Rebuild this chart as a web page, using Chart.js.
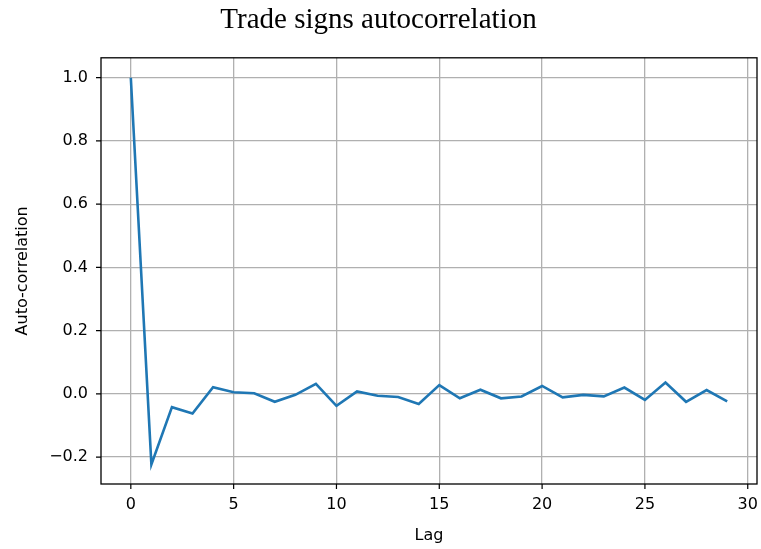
<!DOCTYPE html>
<html>
<head>
<meta charset="utf-8">
<script src="https://cdn.jsdelivr.net/npm/chart.js@4"></script>
<style>
  body { margin: 0; background: #fff; }
  #wrap { width: 761px; height: 549px; }
</style>
</head>
<body>
<div id="wrap"><canvas id="acf" width="761" height="549"></canvas></div>
<script>
// lags and autocorrelation values
const lags = [0,1,2,3,4,5,6,7,8,9,10,11,12,13,14,15,16,17,18,19,20,21,22,23,24,25,26,27,28,29];
const acf = [1.0, -0.223, -0.042, -0.062, 0.021, 0.005, 0.002, -0.025, -0.003, 0.032,
  -0.038, 0.008, -0.006, -0.010, -0.032, 0.028, -0.014, 0.013, -0.014, -0.008,
  0.025, -0.011, -0.003, -0.008, 0.020, -0.019, 0.036, -0.025, 0.012, -0.024];
const xTicks = [0, 5, 10, 15, 20, 25, 30];
const yTicks = [-0.2, 0.0, 0.2, 0.4, 0.6, 0.8, 1.0];

const tickFont = { family: "DejaVu Sans", size: 16 };

// black frame + outward tick marks like matplotlib
const frameTicks = {
  id: "frameTicks",
  afterDraw(chart) {
    const { ctx, chartArea: a, scales } = chart;
    ctx.save();
    ctx.strokeStyle = "#000";
    ctx.lineWidth = 1.3;
    ctx.strokeRect(a.left, a.top, a.right - a.left, a.bottom - a.top);
    ctx.lineWidth = 1.2;
    ctx.beginPath();
    xTicks.forEach((v) => {
      const x = scales.x.getPixelForValue(v);
      ctx.moveTo(x, a.bottom);
      ctx.lineTo(x, a.bottom + 5);
    });
    yTicks.forEach((v) => {
      const y = scales.y.getPixelForValue(v);
      ctx.moveTo(a.left - 5, y);
      ctx.lineTo(a.left, y);
    });
    ctx.stroke();
    ctx.restore();
  },
};

new Chart(document.getElementById("acf"), {
  type: "line",
  data: {
    datasets: [
      {
        data: lags.map((l, i) => ({ x: l, y: acf[i] })),
        borderColor: "#1f77b4",
        borderWidth: 2.6,
        pointRadius: 0,
        tension: 0,
        fill: false,
      },
    ],
  },
  options: {
    responsive: false,
    animation: false,
    layout: { padding: { left: 0, right: 4, top: 0, bottom: 0 } },
    plugins: {
      legend: { display: false },
      tooltip: { enabled: false },
      title: {
        display: true,
        text: "Trade signs autocorrelation",
        color: "#000",
        font: { family: "Liberation Serif", size: 29, weight: "normal" },
        padding: { top: 3, bottom: 20 },
      },
    },
    scales: {
      x: {
        type: "linear",
        min: -1.45,
        max: 30.45,
        afterBuildTicks: (s) => { s.ticks = xTicks.map((v) => ({ value: v })); },
        afterFit: (s) => { s.height = 65; s.paddingLeft = 0; s.paddingRight = 0; },
        grid: { color: "#b0b0b0", lineWidth: 1.3, drawTicks: false },
        border: { display: false },
        ticks: { color: "#000", font: tickFont, padding: 11, maxRotation: 0 },
        title: { display: true, text: "Lag", color: "#000", font: tickFont, padding: { top: 3 } },
      },
      y: {
        min: -0.285,
        max: 1.063,
        afterBuildTicks: (s) => { s.ticks = yTicks.map((v) => ({ value: v })); },
        afterFit: (s) => { s.width = 101; s.paddingTop = 0; s.paddingBottom = 0; },
        grid: { color: "#b0b0b0", lineWidth: 1.3, drawTicks: false },
        border: { display: false },
        ticks: {
          color: "#000",
          font: tickFont,
          padding: 13,
          callback: (v) => v.toFixed(1).replace("-", "\u2212"),
        },
        title: { display: true, text: "Auto-correlation", color: "#000", font: tickFont, padding: { top: 13, bottom: 4 } },
      },
    },
  },
  plugins: [frameTicks],
});
</script>
</body>
</html>
